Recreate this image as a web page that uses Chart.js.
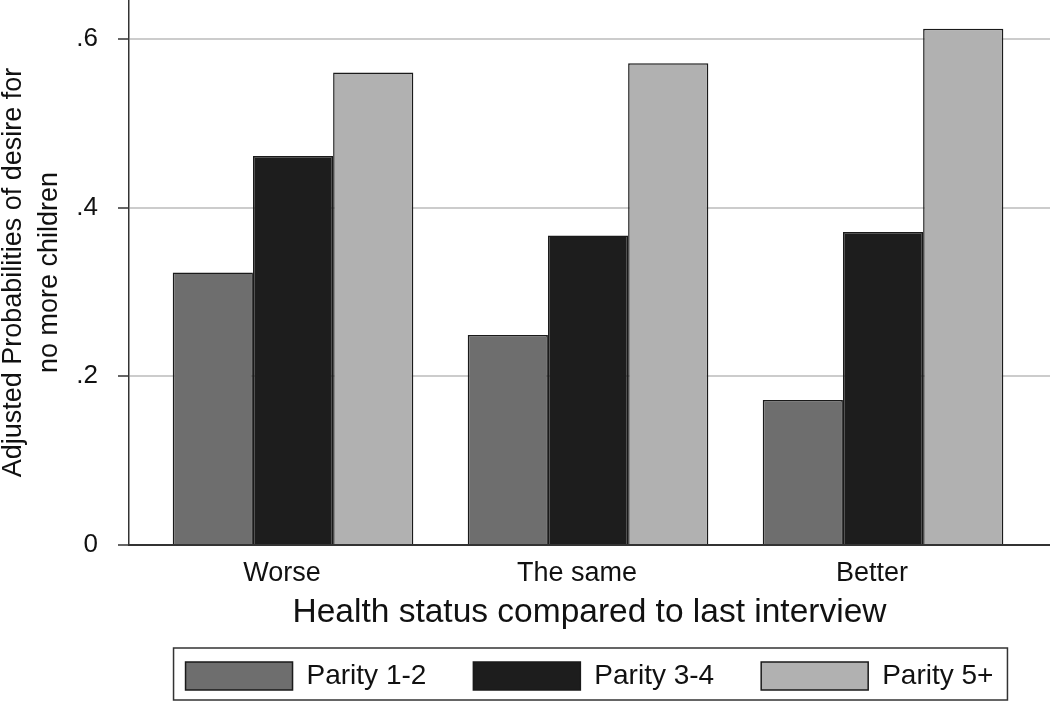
<!DOCTYPE html>
<html>
<head>
<meta charset="utf-8">
<script src="https://cdn.jsdelivr.net/npm/chart.js@4/dist/chart.umd.min.js"></script>
<style>
    html, body { margin: 0; padding: 0; background: #fff; }
    #wrap { position: relative; width: 1050px; height: 707px; }
</style>
</head>
<body>
<div id="wrap"><canvas id="parity-chart"></canvas></div>
<script>
const categories = ['Worse', 'The same', 'Better'];
const parity12 = [0.323, 0.249, 0.172];
const parity34 = [0.461, 0.367, 0.371];
const parity5 = [0.560, 0.571, 0.612];
const yTicks = [0, 0.2, 0.4, 0.6];

// bars sit on a linear x axis (1, 2, 3) so the group spacing can match the original
const toPoints = (values) => values.map((v, i) => ({ x: i + 1, y: v }));

// thin frame around the legend row
const legendFrame = {
    id: 'legendFrame',
    afterDraw(chart) {
        const boxes = chart.legend.legendHitBoxes;
        if (!boxes || !boxes.length) return;
        const first = boxes[0];
        const last = boxes[boxes.length - 1];
        const ctx = chart.ctx;
        ctx.save();
        ctx.strokeStyle = '#333';
        ctx.lineWidth = 1.5;
        ctx.strokeRect(first.left - 12, first.top - 14,
            last.left + last.width + 14 - (first.left - 12), 28 + 24);
        ctx.restore();
    }
};

Chart.defaults.font.family = '"Liberation Sans", Arial, sans-serif';
Chart.defaults.color = '#111';

const parity_chart = new Chart(
    document.getElementById('parity-chart').getContext('2d'), {
    type: 'bar',
    data: {
        datasets: [{
            label: 'Parity 1-2',
            data: toPoints(parity12),
            backgroundColor: '#6e6e6e',
        },
        {
            label: 'Parity 3-4',
            data: toPoints(parity34),
            backgroundColor: '#1d1d1d',
        },
        {
            label: 'Parity 5+',
            data: toPoints(parity5),
            backgroundColor: '#b1b1b1',
        }]
    },
    plugins: [legendFrame],
    options: {
        responsive: true,
        maintainAspectRatio: false,
        animation: false,
        events: [],
        layout: { padding: { top: 0, right: 0, bottom: 7, left: 0 } },
        datasets: {
            bar: {
                categoryPercentage: 0.8156,
                barPercentage: 1.0,
                borderColor: '#1a1a1a',
                borderWidth: 1.5,
            }
        },
        scales: {
            x: {
                type: 'linear',
                min: 0.444,
                max: 3.566,
                offset: false,
                grid: { display: false },
                border: { display: true, color: '#333', width: 2 },
                afterBuildTicks: (scale) => {
                    scale.ticks = categories.map((c, i) => ({ value: i + 1 }));
                },
                afterFit: (scale) => {
                    scale.height = 70;
                    scale.paddingLeft = 0;
                    scale.paddingRight = 0;
                },
                ticks: {
                    font: { size: 27 },
                    padding: 4,
                    labelOffset: -11,
                    maxRotation: 0,
                    autoSkip: false,
                    callback: (value) => categories[value - 1],
                },
                title: {
                    display: true,
                    text: 'Health status compared to last interview',
                    font: { size: 33.5 },
                    color: '#111',
                    padding: { top: 0, bottom: -18 },
                }
            },
            y: {
                min: 0,
                max: 0.646,
                grid: {
                    color: (ctx) => (ctx.tick && ctx.tick.value === 0) ? 'rgba(0,0,0,0)' : '#cccccc',
                    lineWidth: 2,
                    tickColor: '#333',
                    tickLength: 11,
                    tickWidth: 1.5,
                },
                border: { display: true, color: '#333', width: 1.5 },
                afterBuildTicks: (scale) => {
                    scale.ticks = yTicks.map((v) => ({ value: v }));
                },
                afterFit: (scale) => {
                    scale.width = 129;
                    scale.paddingTop = 0;
                    scale.paddingBottom = 0;
                },
                ticks: {
                    font: { size: 26 },
                    padding: 20,
                    callback: (value) => value === 0 ? '0' : value.toFixed(1).replace(/^0/, ''),
                },
                title: {
                    display: true,
                    text: ['Adjusted Probabilities of desire for', 'no more children'],
                    font: { size: 27, lineHeight: 1.333 },
                    color: '#111',
                    padding: { top: -4, bottom: 0 },
                }
            }
        },
        plugins: {
            tooltip: { enabled: false },
            legend: {
                position: 'bottom',
                fullSize: false,
                labels: {
                    boxWidth: 107,
                    boxHeight: 28,
                    padding: 47,
                    color: '#111',
                    font: { size: 28 },
                }
            }
        }
    }
});
</script>
</body>
</html>
